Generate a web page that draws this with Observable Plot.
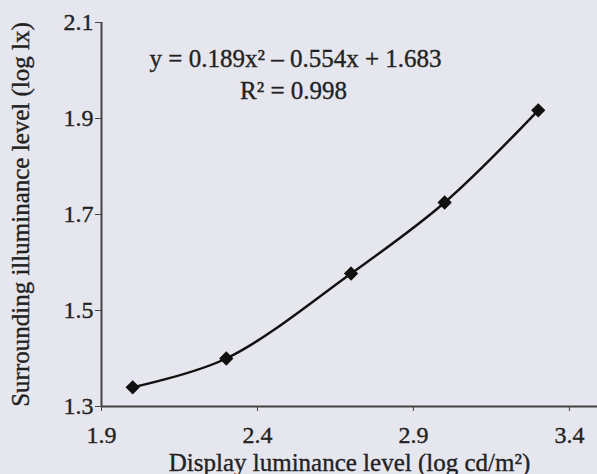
<!DOCTYPE html>
<html>
<head>
<meta charset="utf-8">
<script src="https://cdn.jsdelivr.net/npm/d3@7"></script>
<script src="https://cdn.jsdelivr.net/npm/@observablehq/plot@0.6"></script>
<style>
  html, body { margin: 0; padding: 0; background: #e6e6ee; }
  #chart svg { display: block; }
  #chart svg text { stroke: #222; stroke-width: 0.35px; }
</style>
</head>
<body>
<div id="chart"></div>
<script>
const displayLum = [2.0, 2.3, 2.7, 3.0, 3.3];
const surroundIllum = [1.34, 1.40, 1.577, 1.725, 1.917];
const xTicks = [1.9, 2.4, 2.9, 3.4];
const yTicks = [1.3, 1.5, 1.7, 1.9, 2.1];
const equationLines = ["y = 0.189x² – 0.554x + 1.683", "R² = 0.998"];
const xTitle = "Display luminance level (log cd/m²)";
const yTitle = "Surrounding illuminance level (log lx)";

const data = displayLum.map((x, i) => ({x, y: surroundIllum[i]}));
const font = "Liberation Serif, Times New Roman, serif";

const chart = Plot.plot({
  width: 597,
  height: 474,
  marginLeft: 101,
  marginRight: 0,
  marginTop: 22,
  marginBottom: 68,
  style: {background: "transparent", fontFamily: font, fontSize: "24px", color: "#222"},
  x: {domain: [1.9, 3.49], label: null},
  y: {domain: [1.3, 2.1], label: null},
  marks: [
    Plot.axisX({ticks: xTicks, tickFormat: d => d.toFixed(1), tickSize: 5, tickPadding: 14, stroke: "#444", fontSize: 24, fill: "#222"}),
    Plot.axisY({ticks: yTicks, tickFormat: d => d.toFixed(1), tickSize: 6, tickPadding: 2, stroke: "#444", fontSize: 24, fill: "#222"}),
    Plot.ruleY([1.3], {stroke: "#444", strokeWidth: 2}),
    Plot.ruleX([1.9], {stroke: "#444", strokeWidth: 2}),
    Plot.line(data, {x: "x", y: "y", stroke: "#111", strokeWidth: 2.4, curve: "catmull-rom"}),
    Plot.dot(data, {x: "x", y: "y", symbol: "diamond2", r: 5.5, fill: "#111", stroke: "#111"}),
    Plot.text([equationLines[0]], {frameAnchor: "top-left", dx: 194, dy: 36, lineAnchor: "middle", text: d => d, fontSize: 25, fill: "#222", textAnchor: "middle"}),
    Plot.text([equationLines[1]], {frameAnchor: "top-left", dx: 192, dy: 68, lineAnchor: "middle", text: d => d, fontSize: 25, fill: "#222", textAnchor: "middle"}),
    Plot.text([xTitle], {frameAnchor: "bottom", dy: 56, lineAnchor: "middle", text: d => d, fontSize: 25, fill: "#222"}),
    Plot.text([yTitle], {frameAnchor: "left", dx: -81, rotate: -90, textAnchor: "middle", lineAnchor: "middle", text: d => d, fontSize: 25, fill: "#222"})
  ]
});
document.getElementById("chart").appendChild(chart);
</script>
</body>
</html>
